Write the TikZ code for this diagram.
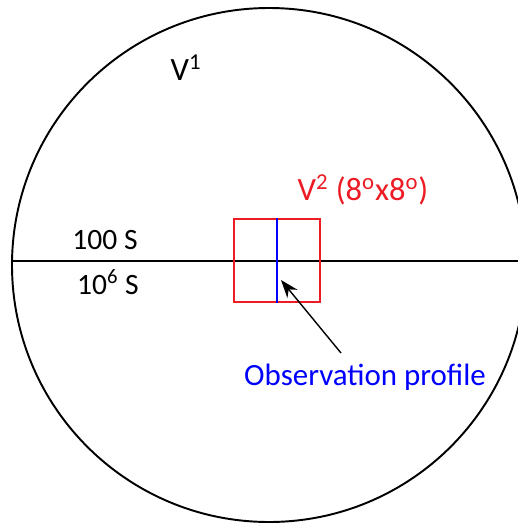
\documentclass[tikz,border=0pt]{standalone}
\usepackage{fontspec}
\setmainfont{Carlito}
\usetikzlibrary{arrows.meta, positioning}
\definecolor{boxred}{RGB}{237, 28, 36}
\definecolor{profblue}{RGB}{0, 0, 255}
\tikzset{
    outline/.style={draw=black, line width=1.1pt},
    field/.style={draw=boxred, line width=0.8pt},
    lbl/.style={inner sep=0pt, font=\fontsize{16.8}{18}\selectfont},
    biglbl/.style={inner sep=0pt, font=\fontsize{18.5}{20}\selectfont},
    arr/.style={-{Stealth[length=3.6mm, width=2.6mm]}, line width=0.8pt, black}
}
\begin{document}
\begin{tikzpicture}[x=0.02cm, y=-0.02cm]
    \useasboundingbox (0,0) rectangle (518,525);
    \clip (0,0) rectangle (518,525);
    % big circle and its dividing line
    \draw[outline] (269,265) circle[x radius=257, y radius=257];
    \coordinate (west) at (12,261);
    \coordinate (east) at (518,261);
    \draw[outline] (west) -- (east);
    % small field and the profile inside it
    \node[field, minimum width=86*0.02cm, minimum height=83*0.02cm, inner sep=0pt] (box) at (277,260.5) {};
    \draw[profblue, line width=1pt] (box.north) -- (box.south);
    % labels
    \node[biglbl] (v1) at (186,68) {V\textsuperscript{1}};
    \node[biglbl, text=boxred] (v2) at (363,190) {V\textsuperscript{2} (8\textsuperscript{o}x8\textsuperscript{o})};
    \node[lbl] (up) at (105,240) {100 S};
    \node[lbl] (down) at (108,282) {10\textsuperscript{6} S};
    \node[biglbl, text=profblue, font=\fontsize{17.6}{19}\selectfont] (obs) at (365,377) {Observation profile};
    \coordinate (tail) at (341,353);
    \coordinate (tip) at (281,280);
    \draw[arr] (tail) -- (tip);
\end{tikzpicture}
\end{document}
